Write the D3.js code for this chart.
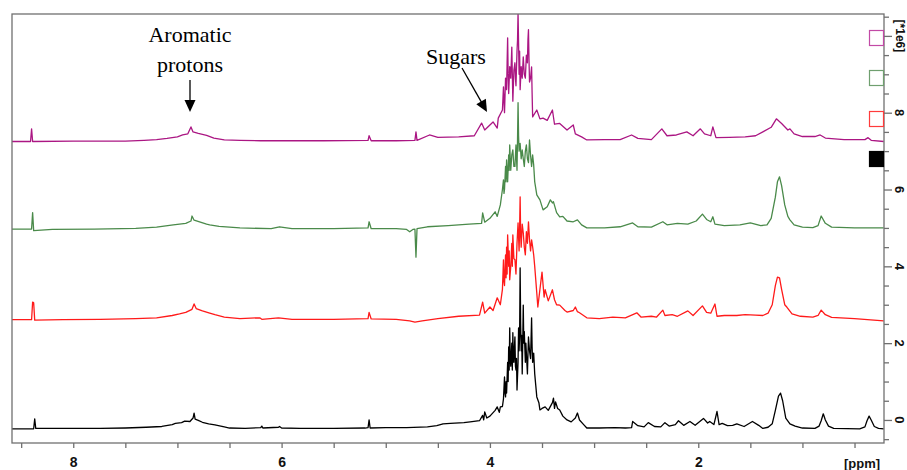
<!DOCTYPE html>
<html>
<head>
<meta charset="utf-8">
<script src="https://cdn.jsdelivr.net/npm/d3@7"></script>
<style>
  body { margin: 0; background: #fff; }
</style>
</head>
<body>
<div id="nmr"></div>
<script>
// stacked 1H NMR spectra: [ppm, intensity in 1e6]
var blackTrace = [
  [8.59,-0.23],[8.38,-0.23],[8.37,0.03],[8.36,-0.22],[8.10,-0.22],[7.74,-0.22],[7.50,-0.21],
  [7.30,-0.19],[7.15,-0.17],[7.05,-0.12],[7.02,-0.09],[6.96,-0.07],[6.93,-0.03],[6.88,-0.04],
  [6.85,0.05],[6.84,0.18],[6.83,0.02],[6.80,-0.01],[6.76,-0.06],[6.70,-0.10],[6.64,-0.13],
  [6.55,-0.18],[6.50,-0.21],[6.35,-0.22],[6.20,-0.20],[6.19,-0.16],[6.18,-0.21],[6.03,-0.19],
  [6.02,-0.17],[6.00,-0.21],[5.82,-0.22],[5.50,-0.22],[5.20,-0.21],[5.17,-0.20],[5.16,0.00],
  [5.15,-0.21],[5.00,-0.20],[4.80,-0.20],[4.60,-0.18],[4.51,-0.15],[4.45,-0.10],[4.38,-0.09],
  [4.25,-0.07],[4.19,-0.05],[4.10,-0.02],[4.07,0.12],[4.06,0.00],[4.05,0.21],[4.03,0.05],
  [4.00,0.10],[3.95,0.25],[3.93,0.34],[3.91,0.20],[3.90,0.34],[3.88,0.35],[3.87,0.55],
  [3.86,1.12],[3.855,0.70],[3.85,0.60],[3.845,1.00],[3.84,0.70],[3.83,1.50],[3.825,1.00],
  [3.82,1.90],[3.815,1.30],[3.81,2.40],[3.805,1.60],[3.80,1.40],[3.79,2.00],[3.785,1.30],
  [3.78,2.27],[3.775,1.60],[3.77,1.50],[3.765,1.90],[3.76,2.16],[3.755,1.40],[3.75,1.30],
  [3.745,1.60],[3.74,0.78],[3.73,1.50],[3.725,2.40],[3.72,1.80],[3.715,2.20],[3.71,3.96],
  [3.705,2.50],[3.70,1.80],[3.695,2.20],[3.69,1.20],[3.685,2.00],[3.68,2.99],[3.675,2.00],
  [3.67,2.30],[3.66,1.50],[3.655,2.00],[3.65,1.74],[3.64,1.20],[3.635,1.70],[3.63,2.16],
  [3.62,1.80],[3.61,1.60],[3.605,2.10],[3.60,2.66],[3.595,1.90],[3.59,1.50],[3.58,1.74],
  [3.57,1.20],[3.56,0.90],[3.55,0.60],[3.53,0.45],[3.52,0.26],[3.50,0.30],
  [3.47,0.34],[3.44,0.25],[3.40,0.45],[3.39,0.57],[3.38,0.30],[3.37,0.47],[3.35,0.30],
  [3.33,0.26],[3.30,0.10],[3.26,0.00],[3.22,-0.05],[3.18,0.05],[3.16,0.18],[3.14,0.00],
  [3.10,-0.12],[3.07,-0.21],[2.95,-0.21],[2.80,-0.20],[2.70,-0.21],[2.64,-0.20],[2.63,-0.04],
  [2.58,-0.15],[2.52,-0.18],[2.48,-0.07],[2.42,-0.17],[2.36,-0.18],[2.32,-0.07],[2.28,-0.16],
  [2.22,-0.12],[2.19,-0.02],[2.14,-0.14],[2.08,-0.04],[2.03,-0.14],[1.95,0.04],[1.91,-0.08],
  [1.89,-0.04],[1.85,-0.12],[1.82,0.22],[1.80,-0.12],[1.77,-0.09],[1.72,-0.15],[1.67,-0.14],
  [1.63,-0.10],[1.56,-0.17],[1.48,-0.04],[1.42,-0.14],[1.38,-0.22],[1.33,-0.19],[1.29,-0.10],
  [1.26,0.25],[1.23,0.62],[1.21,0.70],[1.19,0.50],[1.16,0.05],[1.12,-0.10],[1.07,-0.16],
  [1.00,-0.21],[0.88,-0.22],[0.84,-0.16],[0.82,-0.02],[0.80,0.16],[0.78,0.00],[0.75,-0.16],
  [0.70,-0.22],[0.45,-0.23],[0.40,-0.18],[0.38,-0.02],[0.36,0.10],[0.34,0.00],[0.31,-0.17],
  [0.27,-0.22],[0.22,-0.23]
];

var redTrace = [
  [8.59,2.61],[8.40,2.61],[8.39,3.07],[8.38,3.05],[8.37,2.60],[8.10,2.61],[7.74,2.62],
  [7.40,2.64],[7.20,2.66],[7.05,2.72],[6.98,2.76],[6.92,2.80],[6.86,2.88],[6.84,3.02],
  [6.82,2.90],[6.76,2.84],[6.69,2.78],[6.64,2.74],[6.55,2.68],[6.40,2.64],[6.21,2.66],
  [6.19,2.62],[6.03,2.66],[5.90,2.62],[5.50,2.62],[5.17,2.64],[5.16,2.80],[5.14,2.63],
  [4.90,2.62],[4.77,2.58],[4.72,2.55],[4.65,2.58],[4.50,2.64],[4.30,2.70],[4.10,2.73],
  [4.07,3.07],[4.05,2.78],[4.00,2.94],[3.97,2.85],[3.93,3.18],[3.90,3.00],[3.88,3.40],
  [3.87,4.17],[3.865,3.60],[3.86,3.50],[3.85,4.30],[3.845,3.70],[3.84,4.50],[3.835,3.80],
  [3.83,4.82],[3.82,4.00],[3.815,4.40],[3.81,3.65],[3.80,4.00],[3.79,4.60],[3.785,4.00],
  [3.78,4.82],[3.77,4.20],[3.76,4.17],[3.75,3.80],[3.74,4.60],[3.73,5.13],[3.72,4.40],
  [3.715,5.00],[3.71,5.81],[3.705,4.80],[3.70,4.50],[3.69,5.10],[3.68,4.87],[3.67,4.50],
  [3.66,4.30],[3.65,4.90],[3.64,4.60],[3.63,5.16],[3.62,4.70],[3.61,4.40],[3.60,4.69],
  [3.59,4.51],[3.58,4.30],[3.57,4.00],[3.56,3.65],[3.55,3.30],[3.54,2.94],[3.52,3.40],
  [3.50,3.85],[3.48,3.20],[3.47,3.39],[3.44,3.10],[3.40,3.39],[3.38,3.13],[3.36,3.00],
  [3.33,2.99],[3.28,2.85],[3.26,2.81],[3.20,2.85],[3.18,2.94],[3.16,2.82],[3.14,2.79],
  [3.07,2.66],[2.95,2.64],[2.82,2.68],[2.70,2.66],[2.59,2.79],[2.55,2.68],[2.45,2.70],
  [2.40,2.68],[2.34,2.86],[2.32,2.72],[2.25,2.74],[2.20,2.70],[2.10,2.84],[2.05,2.72],
  [1.96,2.97],[1.92,2.80],[1.88,2.78],[1.84,3.02],[1.82,2.70],[1.75,2.72],[1.63,2.72],
  [1.55,2.74],[1.45,2.73],[1.38,2.72],[1.33,2.78],[1.29,3.00],[1.26,3.50],[1.24,3.72],
  [1.22,3.70],[1.20,3.40],[1.17,3.00],[1.15,2.94],[1.10,2.76],[1.02,2.70],[0.90,2.68],
  [0.85,2.72],[0.82,2.86],[0.78,2.74],[0.72,2.67],[0.50,2.64],[0.22,2.58]
];

var greenTrace = [
  [8.59,4.97],[8.40,4.97],[8.39,5.40],[8.38,4.93],[8.20,4.96],[7.80,4.97],[7.40,4.99],
  [7.20,5.02],[7.04,5.08],[6.98,5.10],[6.92,5.12],[6.87,5.18],[6.86,5.31],[6.84,5.20],
  [6.78,5.15],[6.72,5.10],[6.69,5.08],[6.60,5.04],[6.40,5.00],[6.10,4.98],[6.02,5.03],
  [5.90,4.98],[5.50,4.98],[5.17,5.00],[5.16,5.16],[5.14,4.98],[4.90,4.98],[4.80,4.96],
  [4.77,4.90],[4.74,4.96],[4.72,4.97],[4.71,4.24],[4.70,4.98],[4.60,5.03],[4.40,5.06],
  [4.20,5.10],[4.08,5.12],[4.07,5.39],[4.05,5.15],[4.00,5.25],[3.95,5.42],[3.93,5.30],
  [3.90,5.60],[3.88,6.00],[3.87,6.25],[3.865,5.90],[3.86,6.00],[3.85,6.60],[3.845,6.20],
  [3.84,6.77],[3.83,6.20],[3.82,6.90],[3.815,6.50],[3.81,7.16],[3.80,6.50],[3.79,6.90],
  [3.78,7.03],[3.77,6.60],[3.76,6.60],[3.75,7.16],[3.74,6.50],[3.735,7.30],[3.73,8.26],
  [3.725,7.40],[3.72,7.00],[3.71,7.20],[3.70,6.80],[3.69,7.03],[3.68,6.80],[3.67,6.60],
  [3.66,7.00],[3.65,7.16],[3.64,6.80],[3.63,6.70],[3.62,7.29],[3.61,6.90],[3.60,6.60],
  [3.59,6.90],[3.58,6.64],[3.57,6.20],[3.55,5.86],[3.52,5.73],[3.49,5.47],[3.45,5.55],
  [3.42,5.73],[3.40,5.65],[3.39,5.68],[3.36,5.40],[3.33,5.29],[3.30,5.30],[3.26,5.18],
  [3.20,5.16],[3.16,5.21],[3.12,5.08],[3.07,5.00],[2.90,5.00],[2.75,5.03],[2.63,5.13],
  [2.58,5.03],[2.45,5.02],[2.34,5.16],[2.30,5.08],[2.20,5.12],[2.10,5.10],[2.02,5.18],
  [1.96,5.36],[1.92,5.22],[1.88,5.16],[1.86,5.29],[1.84,5.10],[1.75,5.06],[1.60,5.08],
  [1.50,5.13],[1.40,5.06],[1.34,5.08],[1.30,5.25],[1.26,5.80],[1.24,6.20],[1.22,6.33],
  [1.20,6.10],[1.17,5.60],[1.14,5.30],[1.12,5.21],[1.08,5.08],[1.00,5.02],[0.90,5.01],
  [0.85,5.06],[0.82,5.31],[0.78,5.12],[0.72,5.02],[0.50,5.00],[0.22,5.00]
];

var magentaTrace = [
  [8.59,7.25],[8.41,7.25],[8.40,7.58],[8.39,7.25],[8.00,7.26],[7.70,7.26],[7.50,7.26],
  [7.32,7.28],[7.20,7.30],[7.10,7.33],[7.00,7.37],[6.95,7.42],[6.90,7.45],[6.87,7.63],
  [6.85,7.50],[6.80,7.46],[6.72,7.41],[6.65,7.34],[6.55,7.29],[6.40,7.28],[6.20,7.27],
  [6.00,7.27],[5.60,7.27],[5.17,7.28],[5.16,7.40],[5.14,7.27],[4.90,7.27],[4.72,7.28],
  [4.71,7.50],[4.70,7.28],[4.58,7.42],[4.50,7.36],[4.30,7.37],[4.15,7.40],[4.08,7.73],
  [4.05,7.55],[3.97,7.76],[3.93,7.60],[3.92,7.86],[3.88,8.07],[3.87,8.67],[3.865,8.30],
  [3.86,8.00],[3.85,8.90],[3.84,8.60],[3.835,9.30],[3.83,9.95],[3.825,9.00],[3.82,8.50],
  [3.81,9.20],[3.80,8.90],[3.79,9.71],[3.785,9.00],[3.78,8.30],[3.77,9.10],[3.76,9.30],
  [3.755,8.90],[3.75,8.70],[3.74,9.60],[3.735,9.90],[3.73,10.6],[3.725,9.80],[3.72,9.00],
  [3.715,9.60],[3.71,8.60],[3.70,9.20],[3.69,8.90],[3.68,9.45],[3.67,9.00],[3.66,8.90],
  [3.65,9.50],[3.64,9.30],[3.635,9.90],[3.63,10.16],[3.625,9.40],[3.62,8.80],[3.61,8.90],
  [3.60,9.19],[3.595,8.50],[3.59,7.89],[3.55,8.07],[3.52,7.84],[3.49,7.86],[3.45,7.80],
  [3.40,8.07],[3.38,7.70],[3.33,7.72],[3.26,7.55],[3.20,7.68],[3.18,7.45],[3.12,7.37],
  [3.07,7.29],[2.90,7.30],[2.75,7.30],[2.64,7.42],[2.58,7.33],[2.45,7.30],[2.35,7.58],
  [2.30,7.40],[2.21,7.42],[2.11,7.50],[2.05,7.40],[1.98,7.58],[1.94,7.45],[1.88,7.40],
  [1.86,7.63],[1.83,7.35],[1.70,7.36],[1.55,7.37],[1.45,7.40],[1.38,7.50],[1.30,7.62],
  [1.25,7.84],[1.20,7.72],[1.14,7.55],[1.12,7.58],[1.08,7.45],[1.00,7.38],[0.88,7.38],
  [0.83,7.42],[0.78,7.34],[0.60,7.30],[0.40,7.30],[0.37,7.35],[0.34,7.28],[0.22,7.25]
];

var xTicks = [8.5,8,7.5,7,6.5,6,5.5,5,4.5,4,3.5,3,2.5,2,1.5,1,0.5];
var xTickLabels = [8,6,4,2];
var yTicks = [-0.5,0,0.5,1,1.5,2,2.5,3,3.5,4,4.5,5,5.5,6,6.5,7,7.5,8,8.5,9,9.5,10,10.5];
var yTickLabels = [0,2,4,6,8];
var annotations = [["Aromatic", "protons"], ["Sugars"]];

var width = 907, height = 470;
var plot = {left: 12, right: 884, top: 14, bottom: 443};

var svg = d3.select("#nmr").append("svg")
    .attr("width", width)
    .attr("height", height)
    .style("background", "#fff");

var x = d3.scaleLinear().domain([8.588, 0.217]).range([plot.left, plot.right]);
var y = d3.scaleLinear().domain([-0.6, 10.57]).range([plot.bottom, plot.top]);

svg.append("clipPath").attr("id", "clip")
  .append("rect")
    .attr("x", plot.left).attr("y", plot.top)
    .attr("width", plot.right - plot.left).attr("height", plot.bottom - plot.top);

var line = d3.line()
    .x(function(d) { return x(d[0]); })
    .y(function(d) { return y(d[1]); });

// traces, bottom to top
var traces = [
  {data: blackTrace, color: "#000000"},
  {data: redTrace, color: "#ff1a1a"},
  {data: greenTrace, color: "#4a8a4a"},
  {data: magentaTrace, color: "#ab1683"}
];
svg.append("g").attr("clip-path", "url(#clip)")
  .selectAll("path")
  .data(traces)
  .enter().append("path")
    .attr("d", function(d) { return line(d.data); })
    .attr("fill", "none")
    .attr("stroke", function(d) { return d.color; })
    .attr("stroke-width", 1.3)
    .attr("stroke-linejoin", "round");

// frame
var frameColor = "#707070";
svg.append("rect")
    .attr("x", plot.left).attr("y", plot.top)
    .attr("width", plot.right - plot.left).attr("height", plot.bottom - plot.top)
    .attr("fill", "none")
    .attr("stroke", frameColor)
    .attr("stroke-width", 1.3);

// x axis
var gx = svg.append("g")
    .attr("transform", "translate(0," + plot.bottom + ")")
    .call(d3.axisBottom(x).tickValues(xTicks).tickSize(5)
      .tickFormat(function(d) { return xTickLabels.indexOf(d) >= 0 ? d : ""; }));
gx.select(".domain").remove();
gx.selectAll("line").attr("stroke", frameColor).attr("stroke-width", 1.3);
gx.selectAll("text")
    .attr("y", 14)
    .attr("fill", "#111")
    .style("font", "bold 14px 'Liberation Sans', Arial, sans-serif");
svg.append("text")
    .attr("x", 862).attr("y", 468)
    .attr("text-anchor", "middle")
    .attr("fill", "#111")
    .style("font", "bold 13px 'Liberation Sans', Arial, sans-serif")
    .text("[ppm]");

// y axis on the right
var gy = svg.append("g")
    .attr("transform", "translate(" + plot.right + ",0)")
    .call(d3.axisRight(y).tickValues(yTicks).tickSize(5).tickFormat(""));
gy.select(".domain").remove();
gy.selectAll("line")
    .attr("x2", function(d) { return (yTickLabels.indexOf(d) >= 0 || d === 10) ? 8 : 5; })
    .attr("stroke", frameColor).attr("stroke-width", 1.3);

svg.selectAll(".ylab")
  .data(yTickLabels)
  .enter().append("text")
    .attr("class", "ylab")
    .attr("transform", function(d) { return "translate(900," + y(d) + ") rotate(90)"; })
    .attr("text-anchor", "middle")
    .attr("dy", "0.35em")
    .attr("fill", "#111")
    .style("font", "bold 13px 'Liberation Sans', Arial, sans-serif")
    .text(function(d) { return d; });
svg.append("text")
    .attr("transform", "translate(900," + y(10) + ") rotate(90)")
    .attr("text-anchor", "middle")
    .attr("dy", "0.35em")
    .attr("fill", "#111")
    .style("font", "bold 12px 'Liberation Sans', Arial, sans-serif")
    .text("[*1e6]");

// legend boxes at the right edge
var legend = [
  {color: "#c24aa6", fill: "none", top: 30},
  {color: "#6f9f6f", fill: "none", top: 70},
  {color: "#ff3b3b", fill: "none", top: 111},
  {color: "#000000", fill: "#000000", top: 151}
];
svg.selectAll(".leg")
  .data(legend)
  .enter().append("rect")
    .attr("class", "leg")
    .attr("x", 869.5).attr("y", function(d) { return d.top + 0.5; })
    .attr("width", 14).attr("height", 15)
    .attr("fill", function(d) { return d.fill; })
    .attr("stroke", function(d) { return d.color; })
    .attr("stroke-width", 1.2);

// annotations
var serif = "'Liberation Serif', 'Times New Roman', serif";
svg.append("text")
    .attr("x", 190).attr("text-anchor", "middle")
    .style("font-family", serif).style("font-size", "22px")
    .selectAll("tspan")
    .data(annotations[0])
    .enter().append("tspan")
      .attr("x", 190)
      .attr("y", function(d, i) { return 42 + i * 30; })
      .text(function(d) { return d; });
svg.append("text")
    .attr("x", 456).attr("y", 64)
    .attr("text-anchor", "middle")
    .style("font-family", serif).style("font-size", "22px")
    .text(annotations[1][0]);

function arrow(x1, y1, x2, y2) {
  var dx = x2 - x1, dy = y2 - y1, len = Math.sqrt(dx * dx + dy * dy);
  var ux = dx / len, uy = dy / len, hl = 12, hw = 5.5;
  var bx = x2 - ux * hl, by = y2 - uy * hl;
  svg.append("line")
      .attr("x1", x1).attr("y1", y1).attr("x2", bx + ux).attr("y2", by + uy)
      .attr("stroke", "#000").attr("stroke-width", 1.3);
  svg.append("path")
      .attr("d", "M" + x2 + "," + y2 + "L" + (bx - uy * hw) + "," + (by + ux * hw) +
                 "L" + (bx + uy * hw) + "," + (by - ux * hw) + "Z")
      .attr("fill", "#000");
}
arrow(190, 80, 190, 112);
arrow(462, 68, 487, 112);
</script>
</body>
</html>
